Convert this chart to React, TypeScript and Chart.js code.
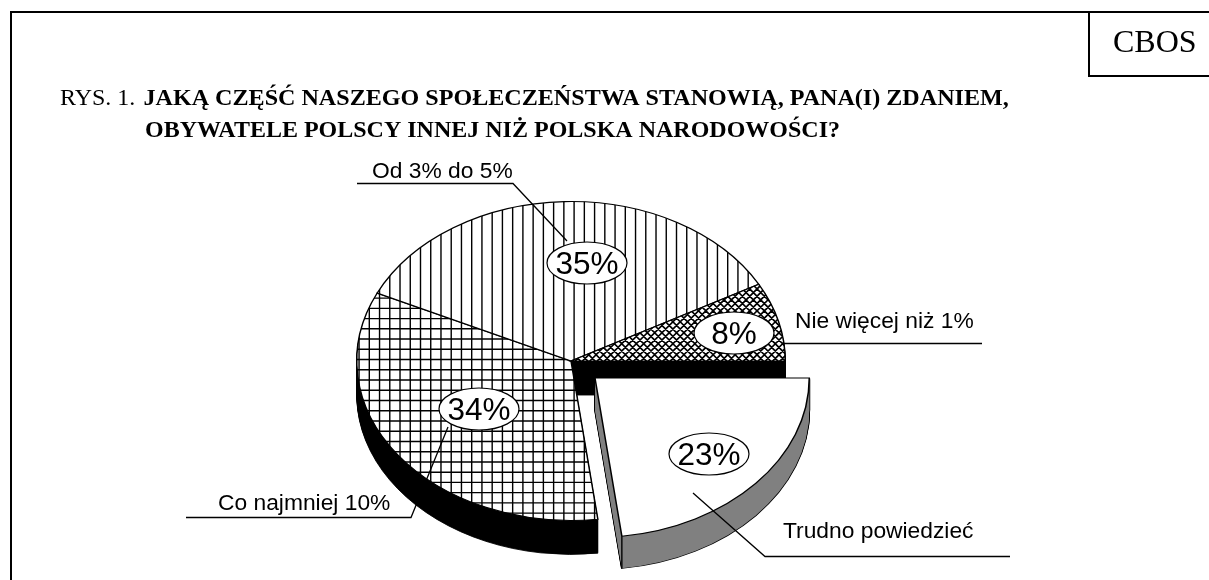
import React, { useEffect, useRef } from "react";
import { Chart, registerables } from "chart.js";

Chart.register(...registerables);

// Data, clockwise from the east-pointing edge
const categories = ["Trudno powiedzieć", "Co najmniej 10%", "Od 3% do 5%", "Nie więcej niż 1%"];
const values = [23, 34, 35, 8];
const percentLabels = ["23%", "34%", "35%", "8%"];
const titleLead = "RYS. 1. ";
const titleBoldLine1 = "JAKĄ CZĘŚĆ NASZEGO SPOŁECZEŃSTWA STANOWIĄ, PANA(I) ZDANIEM,";
const titleBoldLine2 = "OBYWATELE POLSCY INNEJ NIŻ POLSKA NARODOWOŚCI?";
const sourceLabel = "CBOS";

// Layout
const W = 1209;
const H = 580;
const SQUASH = 160 / 215;
const DEPTH = 34;
const EXPLODE_DEPTH = 32;
const EXPLODE_DX = 24;
const EXPLODE_DY = 17;
const EXPLODED_INDEX = 0;
const SANS = '"Liberation Sans", Arial, sans-serif';
const SERIF = '"Liberation Serif", "Times New Roman", serif';

const ellipsePos = [
  [709, 454],
  [479, 409],
  [587, 263],
  [734, 333],
];
const labelPos = [
  [783, 538],
  [218, 510],
  [372, 178],
  [795, 328],
];
const leaderPaths = [
  [[693, 493], [765, 556.5], [1010, 556.5]],
  [[448, 427], [411, 517.5], [186, 517.5]],
  [[567, 241], [513, 183.5], [357, 183.5]],
  [[784, 343.5], [982, 343.5]],
];

const GRID_REPEAT = 25; // 256 / 25 = 10.24 px
const DIAG_REPEAT = 35; // 256 / 35 = 7.31 px
const PHASE_X = 0.66;
const PHASE_Y = 1.14;

function makeTile(width: number, draw: (c: CanvasRenderingContext2D) => void) {
  const t = document.createElement("canvas");
  t.width = 256;
  t.height = 256;
  const c = t.getContext("2d")!;
  c.fillStyle = "#fff";
  c.fillRect(0, 0, 256, 256);
  c.strokeStyle = "#000";
  c.lineWidth = width;
  c.beginPath();
  draw(c);
  c.stroke();
  return c.createPattern(t, "repeat")!;
}
function vLines(c: CanvasRenderingContext2D) {
  const p = 256 / GRID_REPEAT;
  for (let i = 0; i <= GRID_REPEAT; i++) {
    c.moveTo(PHASE_X + i * p, 0);
    c.lineTo(PHASE_X + i * p, 256);
  }
}
function hLines(c: CanvasRenderingContext2D) {
  const p = 256 / GRID_REPEAT;
  for (let i = 0; i <= GRID_REPEAT; i++) {
    c.moveTo(0, PHASE_Y + i * p);
    c.lineTo(256, PHASE_Y + i * p);
  }
}
function diagLines(c: CanvasRenderingContext2D) {
  const p = 256 / DIAG_REPEAT;
  for (let i = -DIAG_REPEAT; i <= 2 * DIAG_REPEAT; i++) {
    c.moveTo(i * p, 0);
    c.lineTo(i * p + 256, 256);
    c.moveTo(i * p, 0);
    c.lineTo(i * p - 256, 256);
  }
}

function solid(fill: string, stroke: string, width: number) {
  return {
    backgroundColor: fill,
    borderColor: stroke,
    borderWidth: width,
    borderAlign: "center",
    borderDash: [],
    borderDashOffset: 0,
    borderJoinStyle: "miter",
    offset: 0,
    spacing: 0,
    circular: true,
  };
}

export default function App() {
  const ref = useRef<HTMLCanvasElement>(null);
  useEffect(() => {
    const vertical = makeTile(1.4, vLines);
    const grid = makeTile(1.4, (c) => {
      vLines(c);
      hLines(c);
    });
    const cross = makeTile(1.7, diagLines);
    const patterns = [vertical, grid, cross];

    const pie3d = {
      id: "pie3d",
      beforeDatasetsDraw(chart: any) {
        const ctx: CanvasRenderingContext2D = chart.ctx;
        const arcs = chart.getDatasetMeta(0).data;
        const cx = arcs[0].x;
        const cy = arcs[0].y;
        const counter = new DOMMatrix().translate(cx, cy).scale(1, 1 / SQUASH).translate(-cx, -cy);
        patterns.forEach((p) => p.setTransform(counter));

        const drawArc = (arc: any, dx: number, dy: number, opts?: any) => {
          const saved = arc.options;
          if (opts) arc.options = opts;
          ctx.save();
          ctx.translate(dx + cx, dy + cy);
          ctx.scale(1, SQUASH);
          ctx.translate(-cx, -cy);
          arc.draw(ctx);
          ctx.restore();
          arc.options = saved;
        };

        const main = arcs.filter((_: any, i: number) => i !== EXPLODED_INDEX);
        for (let d = DEPTH; d >= 1; d--) {
          main.forEach((a: any) => drawArc(a, 0, d, solid("#000", "#000", 1)));
        }
        main.forEach((a: any) => drawArc(a, 0, 0));

        const ex = arcs[EXPLODED_INDEX];
        for (let d = EXPLODE_DEPTH; d >= 1; d--) {
          drawArc(ex, EXPLODE_DX, EXPLODE_DY + d, solid("#000", "#000", 1.8));
        }
        for (let d = EXPLODE_DEPTH; d >= 1; d--) {
          drawArc(ex, EXPLODE_DX, EXPLODE_DY + d, solid("#808080", "#808080", 0));
        }
        drawArc(ex, EXPLODE_DX, EXPLODE_DY, undefined);

        // Front edge of the exploded rim
        const tipX = cx + EXPLODE_DX + Math.cos(ex.endAngle) * ex.outerRadius;
        const tipY = cy + EXPLODE_DY + Math.sin(ex.endAngle) * ex.outerRadius * SQUASH;
        ctx.strokeStyle = "#000";
        ctx.lineWidth = 1.4;
        ctx.beginPath();
        ctx.moveTo(tipX, tipY);
        ctx.lineTo(tipX, tipY + EXPLODE_DEPTH);
        ctx.stroke();
        return false;
      },
      afterDraw(chart: any) {
        const ctx: CanvasRenderingContext2D = chart.ctx;
        ctx.save();
        // Frame
        ctx.strokeStyle = "#000";
        ctx.lineWidth = 2;
        ctx.beginPath();
        ctx.moveTo(W, 12);
        ctx.lineTo(11, 12);
        ctx.lineTo(11, H);
        ctx.moveTo(1089, 12);
        ctx.lineTo(1089, 76);
        ctx.lineTo(W, 76);
        ctx.stroke();

        // Titles
        ctx.fillStyle = "#000";
        ctx.textBaseline = "alphabetic";
        ctx.textAlign = "left";
        ctx.font = `32px ${SERIF}`;
        ctx.fillText(sourceLabel, 1113, 52);
        ctx.font = `24px ${SERIF}`;
        ctx.fillText(titleLead, 60, 105);
        ctx.font = `bold 24.1px ${SERIF}`;
        ctx.fillText(titleBoldLine1, 143.5, 105);
        ctx.font = `bold 24px ${SERIF}`;
        ctx.fillText(titleBoldLine2, 145, 137);

        // Leader lines
        ctx.lineWidth = 1.3;
        leaderPaths.forEach((path) => {
          ctx.beginPath();
          path.forEach(([x, y], i) => (i ? ctx.lineTo(x, y) : ctx.moveTo(x, y)));
          ctx.stroke();
        });

        // Category labels
        ctx.font = `22.8px ${SANS}`;
        categories.forEach((c, i) => ctx.fillText(c, labelPos[i][0], labelPos[i][1]));

        // Percent bubbles
        percentLabels.forEach((t, i) => {
          const [x, y] = ellipsePos[i];
          ctx.beginPath();
          ctx.ellipse(x, y, 40, 21, 0, 0, Math.PI * 2);
          ctx.fillStyle = "#fff";
          ctx.fill();
          ctx.lineWidth = 1.2;
          ctx.stroke();
          ctx.fillStyle = "#000";
          ctx.font = `31.5px ${SANS}`;
          ctx.textAlign = "center";
          ctx.textBaseline = "alphabetic";
          ctx.fillText(t, x, y + 11);
          ctx.textAlign = "left";
        });
        ctx.restore();
      },
    };

    const chart = new Chart(ref.current!, {
      type: "pie",
      data: {
        labels: categories,
        datasets: [
          {
            data: values,
            backgroundColor: ["#ffffff", grid, vertical, cross],
            borderColor: "#000",
            borderWidth: 1.5,
            borderJoinStyle: "miter",
            hoverOffset: 0,
          },
        ],
      },
      options: {
        responsive: false,
        animation: false,
        rotation: 90,
        layout: { padding: { left: 356, right: 423, top: 146, bottom: 4 } },
        plugins: { legend: { display: false }, tooltip: { enabled: false }, title: { display: false } },
        events: [],
      },
      plugins: [pie3d],
    } as any);
    return () => chart.destroy();
  }, []);

  return (
    <div style={{ position: "absolute", left: 0, top: 0, width: W, height: H, background: "#fff" }}>
      <canvas ref={ref} width={W} height={H} style={{ display: "block" }} />
    </div>
  );
}
